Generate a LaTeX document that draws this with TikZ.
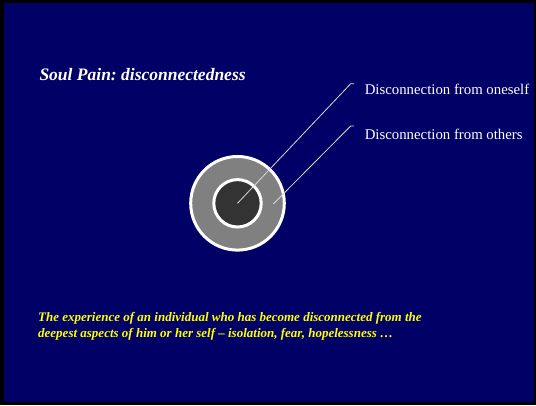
\documentclass[tikz,border=0pt]{standalone}
\usepackage{fontspec}
\setmainfont{Liberation Serif}
\frenchspacing
\definecolor{slidenavy}{HTML}{000066}
\definecolor{ringgray}{HTML}{808080}
\definecolor{coregray}{HTML}{333333}
\definecolor{leadergray}{HTML}{D8D8D8}
\definecolor{noteyellow}{HTML}{FFFF00}
\begin{document}
\begin{tikzpicture}[x=1pt, y=1pt, line width=1pt,
    leader/.style={draw=leadergray, line width=0.8pt},
    labeltext/.style={font=\fontsize{14.8}{17}\selectfont, text=white, inner sep=0pt, anchor=base west}]
  \useasboundingbox (0,0) rectangle (536,405);
  \fill[black] (0,0) rectangle (536,405);
  \fill[slidenavy] (4,3) rectangle (534,402);
  % heading
  \node[font=\fontsize{17.5}{21}\selectfont\bfseries\itshape, text=white, inner sep=0pt, anchor=base west] (heading) at (39,324) {Soul Pain: disconnectedness};
  % the two circles
  \node[circle, fill=ringgray, draw=white, line width=3pt, minimum size=93.6pt, inner sep=0pt] (ring) at (237.5,201.7) {};
  \node[circle, fill=coregray, draw=white, line width=3pt, minimum size=47.4pt, inner sep=0pt] (core) at (ring.center) {};
  % labels and leaders
  \node[labeltext] (selflabel) at (364.3,310) {Disconnection from oneself};
  \node[labeltext] (otherslabel) at (364.3,265) {Disconnection from others};
  \coordinate (ringpt) at (273.3,201);
  \coordinate (bendself) at (350.7,321.3);
  \coordinate (tickself) at (354,321.3);
  \coordinate (bendothers) at (350.7,279);
  \coordinate (tickothers) at (354,279);
  \draw[leader] (core.center) -- (bendself) -- (tickself);
  \draw[leader] (ringpt) -- (bendothers) -- (tickothers);
  % note at the bottom
  \node[font=\fontsize{13}{16}\selectfont\bfseries\itshape, text=noteyellow, align=left, inner sep=0pt, anchor=base west] (note) at (37.7,67.3) {The experience of an individual who has become disconnected from the\\deepest aspects of him or her self – isolation, fear, hopelessness …};
\end{tikzpicture}
\end{document}
